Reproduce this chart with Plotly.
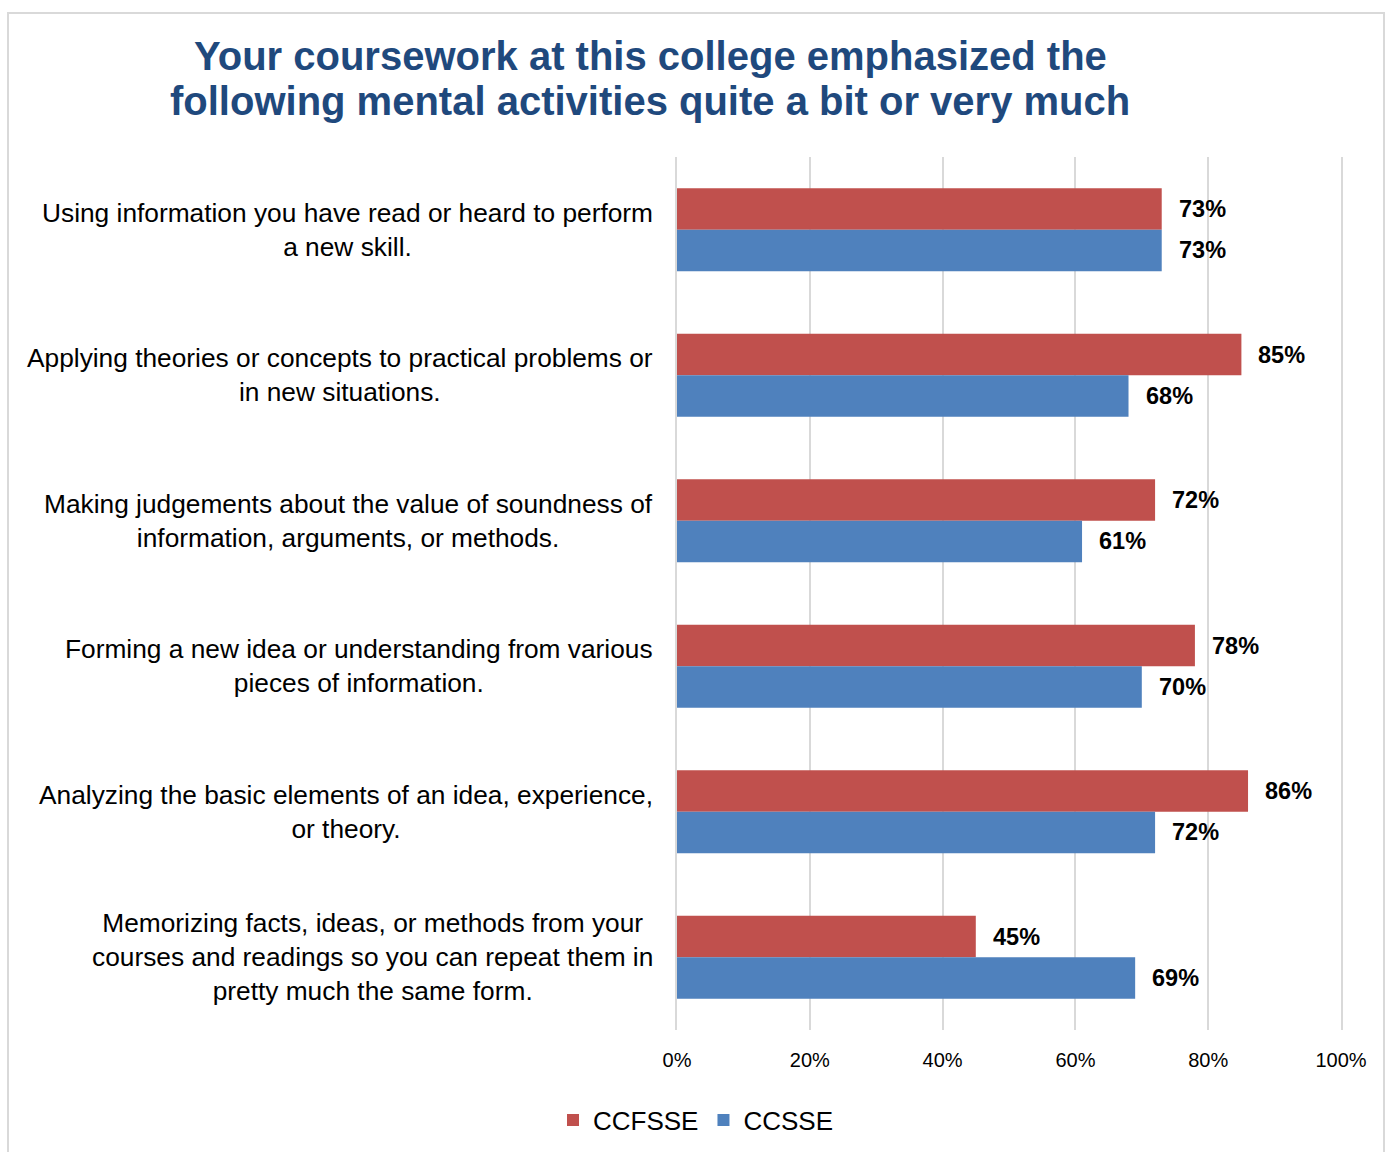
import plotly.graph_objects as go

# Survey items (display order, top to bottom)
categories = [
    "Using information you have read or heard to perform<br>a new skill.",
    "Applying theories or concepts to practical problems or<br>in new situations.",
    "Making judgements about the value of soundness of<br>information, arguments, or methods.",
    "Forming a new idea or understanding from various<br>pieces of information.",
    "Analyzing the basic elements of an idea, experience,<br>or theory.",
    "Memorizing facts, ideas, or methods from your<br>courses and readings so you can repeat them in<br>pretty much the same form.",
]
ccfsse = [73, 85, 72, 78, 86, 45]   # faculty survey, percent
ccsse = [73, 68, 61, 70, 72, 69]    # student survey, percent
x_ticks = [0, 20, 40, 60, 80, 100]

series = [("CCFSSE", ccfsse, "#C0504D"), ("CCSSE", ccsse, "#4F81BD")]

FONT = "Liberation Sans, Arial, sans-serif"
GRID = "#D9D9D9"
W, H = 1392, 1152
L, R, T, B = 677, 51, 157, 122
PW, PH = W - L - R, H - T - B
BARGAP = 0.43

def px_x(p):
    return (p - L) / PW

def px_y(p):
    return (H - B - p) / PH

fig = go.Figure()
idx = list(range(len(categories)))
for name, vals, color in series:
    fig.add_trace(go.Bar(
        y=idx, x=vals, name=name, orientation="h",
        marker=dict(color=color, line=dict(width=0)),
        hoverinfo="skip",
    ))

annotations = []
# value labels beside each bar
bar_w = (1 - BARGAP) / len(series)
for s, (name, vals, color) in enumerate(series):
    off = -bar_w / 2 if s == 0 else bar_w / 2
    for i, v in enumerate(vals):
        annotations.append(dict(
            x=v, y=i + off, xref="x", yref="y", text=f"<b>{v}%</b>",
            showarrow=False, xanchor="left", yanchor="middle", xshift=15,
            font=dict(family=FONT, size=23.5, color="#000000"),
        ))

# category labels, centred within a right-aligned block
for i, c in enumerate(categories):
    annotations.append(dict(
        x=0, y=i, xref="paper", yref="y", text=c, showarrow=False,
        xanchor="right", yanchor="middle", align="center", xshift=-22,
        font=dict(family=FONT, size=26.3, color="#000000"),
    ))

# two-line title
title_lines = [
    "Your coursework at this college emphasized the",
    "following mental activities quite a bit or very much",
]
for line, yc in zip(title_lines, [56, 101]):
    annotations.append(dict(
        x=px_x(650), y=px_y(yc), xref="paper", yref="paper",
        text=f"<b>{line}</b>", showarrow=False,
        xanchor="center", yanchor="middle",
        font=dict(family=FONT, size=40, color="#1F497D"),
    ))

fig.update_layout(
    width=W, height=H,
    margin=dict(l=L, r=R, t=T, b=B, pad=0),
    paper_bgcolor="white", plot_bgcolor="white",
    barmode="group", bargap=BARGAP, bargroupgap=0,
    font=dict(family=FONT, color="#000000"),
    annotations=annotations,
    showlegend=True,
    legend=dict(
        orientation="h", xref="container", yref="container",
        x=0.5, xanchor="center", y=(H - 1120) / H, yanchor="middle",
        font=dict(family=FONT, size=26, color="#000000"),
        itemwidth=30, tracegroupgap=0, traceorder="normal",
    ),
    shapes=[dict(
        type="rect", xref="paper", yref="paper", layer="below",
        x0=px_x(8), x1=px_x(1384), y0=px_y(1165), y1=px_y(13),
        line=dict(color=GRID, width=2), fillcolor="rgba(0,0,0,0)",
    )],
)

fig.update_xaxes(
    range=[0, 100], tickvals=x_ticks, ticktext=[f"{t}%" for t in x_ticks],
    showgrid=True, gridcolor=GRID, gridwidth=2,
    zeroline=False, showline=False, ticks="",
    tickfont=dict(family=FONT, size=20, color="#000000"),
    ticklabelstandoff=16, fixedrange=True,
)
# axis lines at both plot edges give the 0% and 100% gridlines
fig.update_yaxes(
    type="linear", range=[len(categories) - 0.5, -0.5],
    showticklabels=False, showgrid=False, zeroline=False,
    showline=True, mirror=True, linecolor=GRID, linewidth=2,
    ticks="", fixedrange=True,
)

fig.write_html("out.html", config={"displayModeBar": False})
